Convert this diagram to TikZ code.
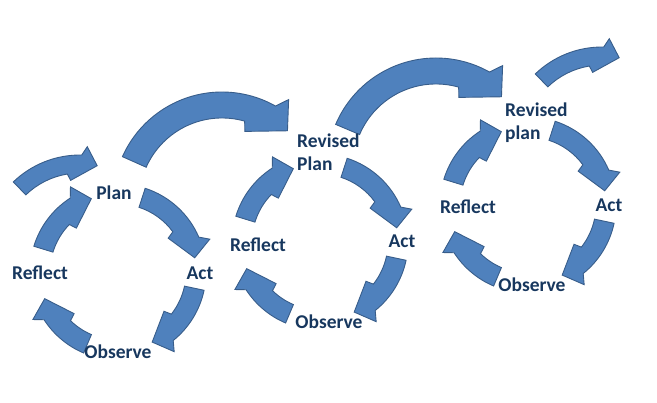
\documentclass[tikz,border=0pt]{standalone}
\usepackage{fontspec}
\setmainfont{Carlito}
\definecolor{arrowblue}{RGB}{79,129,189}
\definecolor{arrowline}{RGB}{56,93,138}
\definecolor{labelblue}{RGB}{23,55,94}
\tikzset{
  blockarrow/.style={fill=arrowblue, draw=arrowline, line width=0.9pt, line join=miter},
  steplabel/.style={text=labelblue, font=\bfseries\fontsize{19.5}{23}\selectfont, inner sep=0pt}
}
% curved block arrow: centre, start angle, tip angle, mid radius, half width
\newcommand{\bendarrow}[5]{%
  \pgfmathsetmacro\ro{#4+#5}
  \pgfmathsetmacro\ri{#4-#5}
  \pgfmathsetmacro\aof{#3+1.25*#5/#4*180/pi}
  \pgfmathsetmacro\rof{#4+1.95*#5}
  \pgfmathsetmacro\abo{#3+1.75*#5/#4*180/pi}
  \pgfmathsetmacro\abi{#3+3.5*#5/#4*180/pi}
  \pgfmathsetmacro\abb{#3+3.2*#5/#4*180/pi}
  \pgfmathsetmacro\rbb{#4-1.75*#5}
  \begin{scope}[shift={#1}]
    \filldraw[blockarrow] (#2:\ro pt) arc[start angle=#2, end angle=\abo, radius=\ro pt]
      -- (\aof:\rof pt) -- (#3:#4 pt) -- (\abb:\rbb pt) -- (\abi:\ri pt)
      arc[start angle=\abi, end angle=#2, radius=\ri pt] -- cycle;
  \end{scope}}
\begin{document}
\begin{tikzpicture}[x=1pt,y=1pt]
        \useasboundingbox (0,0) rectangle (657,403);
        % arrows joining the cycles
        \bendarrow{(80,152)}{134}{78.6}{87}{9}
        \bendarrow{(222,202)}{156}{47}{96}{13}
        \bendarrow{(436,236)}{157}{47}{96}{13}
        \bendarrow{(602,260)}{134}{78.6}{87}{9}
        % the three cycles
        \foreach \cx/\cy in {118/131, 320/161, 528/198}{
            \bendarrow{(\cx,\cy)}{72}{10.5}{78}{10}
            \bendarrow{(\cx,\cy)}{-12}{-64}{78}{10}
            \bendarrow{(\cx,\cy)}{-113}{-160}{78}{10}
            \bendarrow{(\cx,\cy)}{163}{110}{78}{10}
        }
        % labels
        \node[steplabel] (plan1) at (114,210) {Plan};
        \node[steplabel] (act1) at (200,130) {Act};
        \node[steplabel] (observe1) at (118,51) {Observe};
        \node[steplabel] (reflect1) at (40,130) {Reflect};
        \node[steplabel, anchor=west, align=left] (plan2) at (297,251) {Revised\\Plan};
        \node[steplabel] (act2) at (402,162) {Act};
        \node[steplabel] (observe2) at (329,81) {Observe};
        \node[steplabel] (reflect2) at (258,158) {Reflect};
        \node[steplabel, anchor=west, align=left] (plan3) at (505,280) {Revised\\plan};
        \node[steplabel] (act3) at (609,198) {Act};
        \node[steplabel] (observe3) at (532,118) {Observe};
        \node[steplabel] (reflect3) at (468,196) {Reflect};
\end{tikzpicture}
\end{document}
